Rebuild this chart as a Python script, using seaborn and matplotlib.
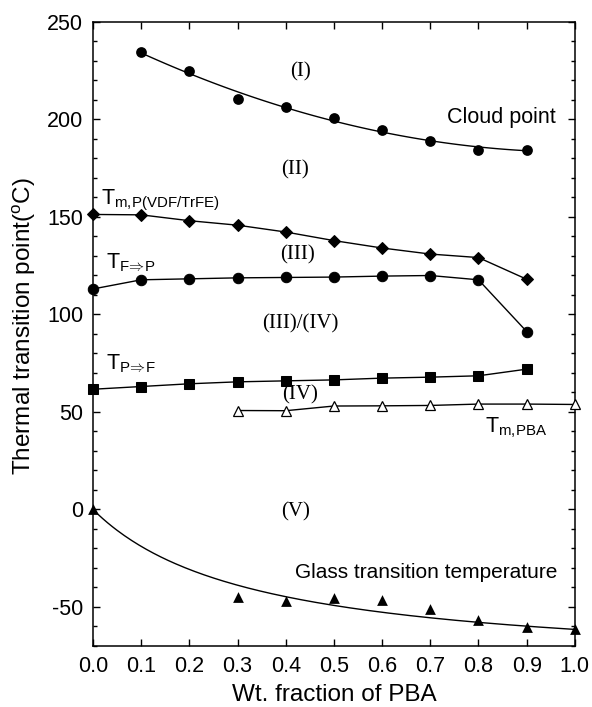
import numpy as np
import pandas as pd
import matplotlib
matplotlib.use("Agg")
import matplotlib.pyplot as plt
import seaborn as sns
from matplotlib.ticker import MultipleLocator

# ---------------- data ----------------
x_cloud = [0.1, 0.2, 0.3, 0.4, 0.5, 0.6, 0.7, 0.8, 0.9]
cloud = [234.3, 224.9, 210.5, 206.2, 200.6, 194.6, 188.8, 184.4, 184.4]

x_all = [0.0, 0.1, 0.2, 0.3, 0.4, 0.5, 0.6, 0.7, 0.8, 0.9]
tm_p = [151.2, 151.0, 148.0, 145.7, 142.2, 137.8, 134.0, 130.9, 129.1, 118.0]
t_fp = [113.0, 117.7, 118.2, 118.7, 118.9, 119.1, 119.6, 119.9, 117.7, 91.2]
t_pf = [61.6, 63.0, 64.4, 65.4, 65.9, 66.4, 67.3, 67.8, 68.5, 71.9]

x_pba = [0.3, 0.4, 0.5, 0.6, 0.7, 0.8, 0.9, 1.0]
tm_pba = [50.7, 50.6, 53.0, 53.1, 53.3, 54.0, 54.0, 53.8]

x_tg = [0.0, 0.3, 0.4, 0.5, 0.6, 0.7, 0.8, 0.9, 1.0]
tg = [0.0, -45.0, -47.0, -45.5, -46.5, -51.0, -56.5, -60.5, -61.5]
GT_K = 4.0  # Gordon-Taylor fit parameter of the drawn curve

x_ticks = [0.0, 0.1, 0.2, 0.3, 0.4, 0.5, 0.6, 0.7, 0.8, 0.9, 1.0]
y_ticks = [-50, 0, 50, 100, 150, 200, 250]

regions = ["(I)", "(II)", "(III)", "(III)/(IV)", "(IV)", "(V)"]
region_x = [0.43, 0.42, 0.425, 0.43, 0.43, 0.42]
region_y = [224.5, 174.0, 130.5, 95.0, 58.5, -1.5]

# ---------------- style ----------------
sns.set_theme(style="ticks")
plt.rcParams["font.family"] = ["Liberation Sans", "DejaVu Sans"]
plt.rcParams["mathtext.fontset"] = "custom"
plt.rcParams["mathtext.rm"] = "Liberation Sans"
plt.rcParams["mathtext.it"] = "Liberation Sans"
plt.rcParams["axes.unicode_minus"] = False
for k in ["text.color", "axes.labelcolor", "xtick.color", "ytick.color",
          "axes.edgecolor"]:
    plt.rcParams[k] = "black"

fig = plt.figure(figsize=(5.92, 7.07), dpi=100)
ax = fig.add_axes([0.157, 0.0863, 0.814, 0.883])

# cloud point: markers + smooth fit
sns.regplot(x=x_cloud, y=cloud, order=2, ci=None, ax=ax, truncate=True,
            scatter_kws=dict(s=60, color="black", edgecolor="black",
                             linewidths=0, alpha=1.0),
            line_kws=dict(color="black", lw=1.0))

df = pd.DataFrame({"x": x_all, "tm_p": tm_p, "t_fp": t_fp, "t_pf": t_pf})
sns.lineplot(data=df, x="x", y="tm_p", ax=ax, color="black", lw=1.0,
             marker="D", markersize=6.5, markeredgecolor="black", clip_on=False)
sns.lineplot(data=df, x="x", y="t_fp", ax=ax, color="black", lw=1.0,
             marker="o", markersize=7.5, markeredgecolor="black", clip_on=False)
sns.lineplot(data=df, x="x", y="t_pf", ax=ax, color="black", lw=1.0,
             marker="s", markersize=6.5, markeredgecolor="black", clip_on=False)
sns.lineplot(x=x_pba, y=tm_pba, ax=ax, color="black", lw=1.0,
             marker="^", markersize=7.5, markerfacecolor="white",
             markeredgecolor="black", markeredgewidth=0.9, clip_on=False)

# glass transition: markers + Gordon-Taylor curve
sns.scatterplot(x=x_tg, y=tg, ax=ax, marker="^", s=60, color="black",
                edgecolor="black", linewidth=0, clip_on=False, zorder=5)
w = np.linspace(0, 1, 200)
tg_fit = (GT_K * w * tg[-1] + (1 - w) * tg[0]) / ((1 - w) + GT_K * w)
sns.lineplot(x=w, y=tg_fit, ax=ax, color="black", lw=1.0)

# ---------------- axes ----------------
ax.set_xlim(0.0, 1.0)
ax.set_ylim(-70, 250)
ax.set_xticks(x_ticks)
ax.set_xticklabels([f"{v:.1f}" for v in x_ticks])
ax.set_yticks(y_ticks)
ax.yaxis.set_minor_locator(MultipleLocator(10))
ax.tick_params(axis="both", which="both", direction="in", top=True, right=True,
               color="black", labelcolor="black", width=1.0)
ax.tick_params(axis="both", which="major", length=5, labelsize=15.5, pad=7)
ax.tick_params(axis="both", which="minor", length=3)
for s in ax.spines.values():
    s.set_visible(True)
    s.set_color("black")
    s.set_linewidth(1.1)
    s.set_zorder(0)

ax.set_xlabel("Wt. fraction of PBA", fontsize=17.5, color="black")
ax.xaxis.set_label_coords(0.5, -0.061)
ax.set_ylabel(r"Thermal transition point($^{\mathrm{o}}$C)", fontsize=17.5,
              color="black")
ax.yaxis.set_label_coords(-0.114, 0.513)

# ---------------- annotations ----------------
serif = ["Liberation Serif", "DejaVu Serif"]
for t, xx, yy in zip(regions, region_x, region_y):
    ax.text(xx, yy, t, fontsize=15, family=serif, ha="center", va="center",
            color="black")

kw = dict(ha="left", va="center", color="black")
ax.text(0.734, 201.0, "Cloud point", fontsize=15.5, **kw)
ax.text(0.017, 158.5, r"T$_{\mathrm{m{,}P(VDF/TrFE)}}$", fontsize=15.5, **kw)
ax.text(0.027, 126.5, r"T$_{\mathrm{F\!\Rightarrow\!P}}$", fontsize=15.5, **kw)
ax.text(0.027, 74.5, r"T$_{\mathrm{P\!\Rightarrow\!F}}$", fontsize=15.5, **kw)
ax.text(0.813, 42.0, r"T$_{\mathrm{m{,}PBA}}$", fontsize=15.5, **kw)
ax.text(0.42, -32.5, "Glass transition temperature", fontsize=15, **kw)

fig.savefig("out.png", dpi=100)
